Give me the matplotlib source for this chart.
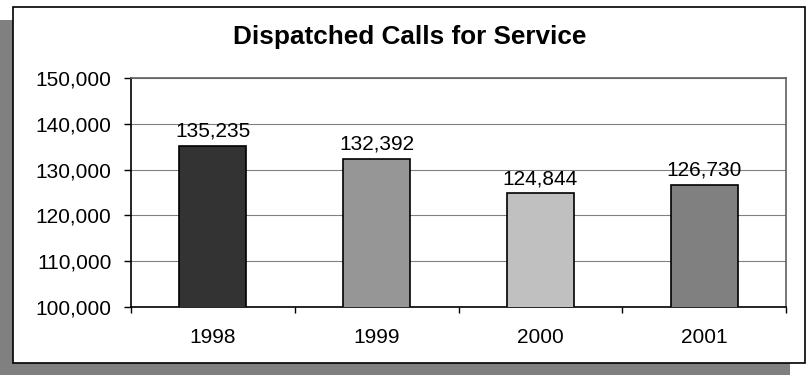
import numpy as np
import matplotlib.pyplot as plt
from matplotlib.patches import Rectangle

plt.rcParams['font.family'] = ['Liberation Sans', 'DejaVu Sans']

years = ['1998', '1999', '2000', '2001']
calls = [135235, 132392, 124844, 126730]
colors = ['#333333', '#969696', '#c0c0c0', '#808080']
yticks = [100000, 110000, 120000, 130000, 140000, 150000]

W, H = 806, 375
fig = plt.figure(figsize=(W / 100, H / 100), dpi=100)

# drop shadow and white chart box (pixel coords converted to figure fraction)
def px_rect(x0, y0, x1, y1, **kw):
    return Rectangle((x0 / W, 1 - y1 / H), (x1 - x0) / W, (y1 - y0) / H,
                     transform=fig.transFigure, **kw)

fig.patches.append(px_rect(0, 20, 790, 375, facecolor='#808080', edgecolor='none', zorder=0))
fig.patches.append(px_rect(13.5, 6.5, 805, 363, facecolor='white', edgecolor='black',
                           linewidth=1.2, zorder=1))

ax = fig.add_axes([131 / W, 1 - 307 / H, (786 - 131) / W, (307 - 78) / H])
ax.set_zorder(2)
ax.patch.set_alpha(0)

x = np.arange(len(years))
ax.bar(x, calls, width=0.41, color=colors, edgecolor='black', linewidth=1.2, zorder=3)
for xi, v in zip(x, calls):
    ax.text(xi, v + 1100, f'{v:,}', ha='center', va='bottom', fontsize=15)

ax.set_xlim(-0.5, len(years) - 0.5)
ax.set_ylim(100000, 150000)
ax.set_yticks(yticks)
ax.set_yticklabels([f'{t:,}' for t in yticks], fontsize=15)
ax.yaxis.grid(True, color='#808080', linewidth=0.8, zorder=1)
ax.tick_params(axis='y', direction='out', length=5, width=1, pad=9)

ax.set_xticks(x)
ax.set_xticklabels(years, fontsize=15)
ax.tick_params(axis='x', which='major', length=0, pad=15)
ax.set_xticks(np.arange(-0.5, len(years)), minor=True)
ax.tick_params(axis='x', which='minor', direction='out', length=4, width=1)

for s in ax.spines.values():
    s.set_color('black')
    s.set_linewidth(1.2)
ax.spines['top'].set_color('#606060')
ax.spines['right'].set_color('#606060')

fig.text(410 / W, 1 - 37 / H, 'Dispatched Calls for Service', ha='center', va='center',
         fontsize=18.8, fontweight='bold')

fig.savefig('out.png', dpi=100)
